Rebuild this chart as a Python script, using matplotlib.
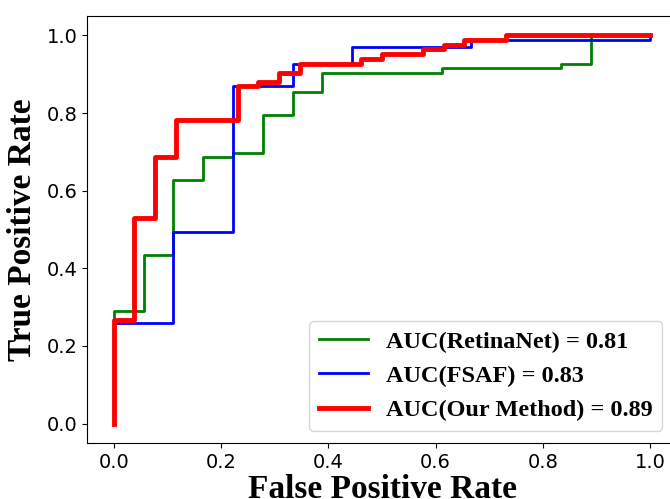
import matplotlib
matplotlib.use("Agg")
import matplotlib.pyplot as plt

# RetinaNet ROC corner points
fpr_retina = [0, 0, 0.0556, 0.0556, 0.1111, 0.1111, 0.1667, 0.1667, 0.2222, 0.2222,
              0.2778, 0.2778, 0.3333, 0.3333, 0.3889, 0.3889, 0.6111, 0.6111,
              0.8333, 0.8333, 0.8889, 0.8889, 1.0]
tpr_retina = [0, 0.289, 0.289, 0.434, 0.434, 0.627, 0.627, 0.686, 0.686, 0.698,
              0.698, 0.796, 0.796, 0.854, 0.854, 0.903, 0.903, 0.917,
              0.917, 0.927, 0.927, 1.0, 1.0]

# FSAF ROC corner points
fpr_fsaf = [0, 0, 0.1111, 0.1111, 0.2222, 0.2222, 0.3333, 0.3333, 0.4444, 0.4444,
            0.6667, 0.6667, 1.0, 1.0]
tpr_fsaf = [0, 0.260, 0.260, 0.493, 0.493, 0.870, 0.870, 0.927, 0.927, 0.970,
            0.970, 0.987, 0.987, 1.0]

# Our Method ROC corner points
fpr_ours = [0, 0, 0.0385, 0.0385, 0.0769, 0.0769, 0.1154, 0.1154, 0.2308, 0.2308,
            0.2692, 0.2692, 0.3077, 0.3077, 0.3462, 0.3462, 0.4615, 0.4615,
            0.5, 0.5, 0.5769, 0.5769, 0.6154, 0.6154, 0.6538, 0.6538,
            0.7308, 0.7308, 1.0]
tpr_ours = [0, 0.266, 0.266, 0.529, 0.529, 0.686, 0.686, 0.781, 0.781, 0.869,
            0.869, 0.881, 0.881, 0.904, 0.904, 0.927, 0.927, 0.940,
            0.940, 0.951, 0.951, 0.964, 0.964, 0.976, 0.976, 0.987,
            0.987, 1.0, 1.0]

labels = ["AUC(RetinaNet) = 0.81", "AUC(FSAF) = 0.83", "AUC(Our Method) = 0.89"]

fig = plt.figure(figsize=(6.7, 4.99), dpi=100)
ax = fig.add_axes([87 / 670, 56 / 499, 590 / 670, 427 / 499])

ax.plot(fpr_retina, tpr_retina, color="green", lw=2, label=labels[0])
ax.plot(fpr_fsaf, tpr_fsaf, color="blue", lw=2, label=labels[1])
ax.plot(fpr_ours, tpr_ours, color="red", lw=3.5, label=labels[2])

ax.set_xlim(-0.05, 1.05)
ax.set_ylim(-0.05, 1.05)
ax.tick_params(labelsize=14)

label_font = {"family": "Liberation Serif", "weight": "bold", "size": 24}
ax.set_xlabel("False Positive Rate", fontdict=label_font, labelpad=2)
ax.set_ylabel("True Positive Rate", fontdict=label_font, labelpad=6)

ax.legend(loc="lower right", prop={"family": "Liberation Serif", "weight": "bold", "size": 17.5},
          bbox_to_anchor=(0.996, 0.0), handlelength=2.0, handletextpad=0.75)

fig.savefig("out.png", dpi=100)
